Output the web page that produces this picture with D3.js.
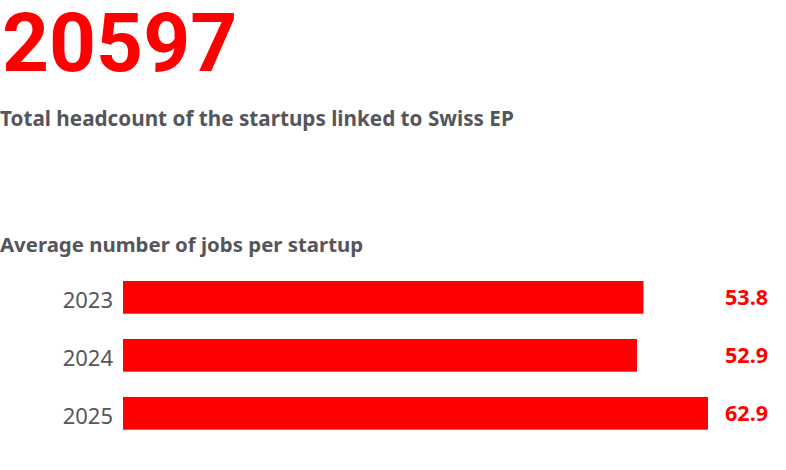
<!DOCTYPE html>
<html><head><meta charset="utf-8">
<script src="https://cdn.jsdelivr.net/npm/d3@7"></script>
<style>
html,body{margin:0;padding:0;background:#fff;}
svg{display:block;}
</style></head>
<body>
<svg id="c" width="786" height="470"></svg>
<script>
const bigNumber = "20597";
const subtitle = "Total headcount of the startups linked to Swiss EP";
const chartTitle = "Average number of jobs per startup";
const years = ["2023", "2024", "2025"];
const jobsPerStartup = [53.8, 52.9, 62.9];

const RED = "#ff0000", GRAY = "#55565b";
const FONT = "'Noto Sans', Roboto, sans-serif";
const NUMFONT = "Roboto, 'Noto Sans', sans-serif";
const svg = d3.select("#c");

svg.append("text").attr("x", 2).attr("y", 71)
  .attr("font-family", NUMFONT).attr("font-weight", 700).attr("font-size", 82)
  .attr("fill", RED).text(bigNumber);

svg.append("text").attr("x", 0).attr("y", 125.5)
  .attr("font-family", FONT).attr("font-weight", 700).attr("font-size", 20.7)
  .attr("fill", GRAY).text(subtitle);

svg.append("text").attr("x", 0).attr("y", 251.7)
  .attr("font-family", FONT).attr("font-weight", 700).attr("font-size", 20.4)
  .attr("fill", GRAY).text(chartTitle);

const data = years.map((y, i) => ({year: y, value: jobsPerStartup[i]}));

const x = d3.scaleLinear().domain([-19.6, 62.9]).range([123, 708]);
const y = d3.scaleBand().domain(years).range([281, 429.7]).paddingInner(0.436).paddingOuter(0);

const g = svg.append("g");
g.selectAll("rect").data(data).join("rect")
  .attr("x", x(-19.6)).attr("y", d => y(d.year))
  .attr("width", d => x(d.value) - x(-19.6)).attr("height", y.bandwidth())
  .attr("fill", RED);

g.selectAll("text.yr").data(data).join("text").attr("class", "yr")
  .attr("x", 113).attr("y", d => y(d.year) + y.bandwidth() / 2 + 11)
  .attr("text-anchor", "end")
  .attr("font-family", FONT).attr("font-size", 22).attr("fill", GRAY)
  .text(d => d.year);

g.selectAll("text.val").data(data).join("text").attr("class", "val")
  .attr("x", 768).attr("y", d => y(d.year) + y.bandwidth() / 2 + 7.3)
  .attr("text-anchor", "end")
  .attr("font-family", FONT).attr("font-weight", 700).attr("font-size", 21.5)
  .attr("fill", RED)
  .text(d => d.value.toFixed(1));
</script>
</body></html>
